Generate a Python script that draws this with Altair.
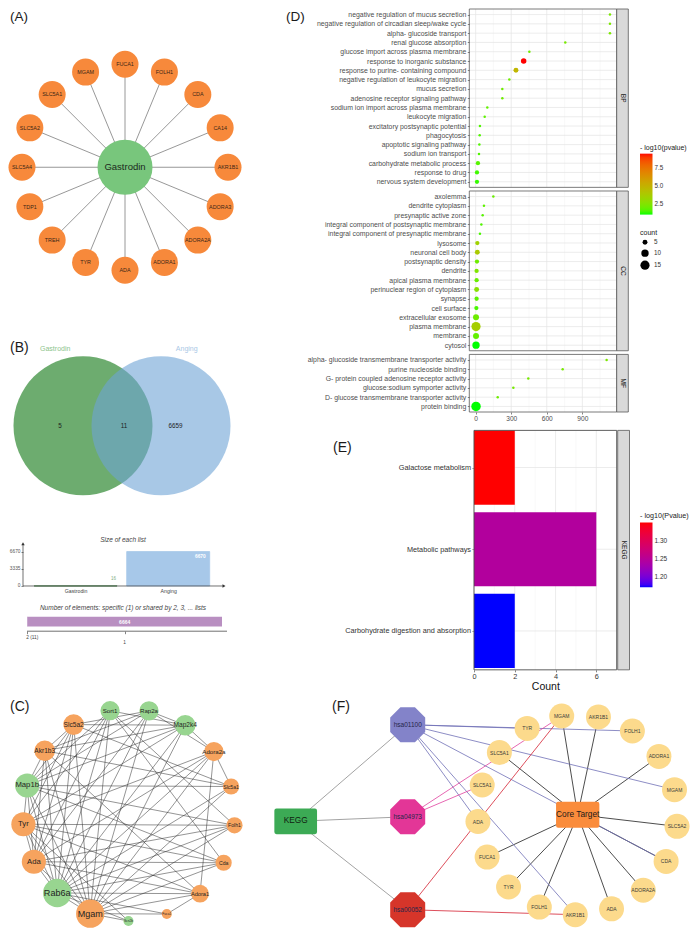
import math
import json
import pandas as pd
import altair as alt

FONT = "Liberation Sans"
W, H = 684, 922
SY = H / 938.0


def X(r):
    return r - 8.0


def Y(r):
    return (r - 2.0) * SY


# ============================ DATA ============================
# (A) compound - target network
a_hub = "Gastrodin"
a_targets = ["FUCA1", "FOLH1", "CDA", "CA14", "AKR1B1", "ADORA3", "ADORA2A", "ADORA1",
             "ADA", "TYR", "TREH", "TDP1", "SLC5A4", "SLC5A2", "SLC5A1", "MGAM"]

# (B) Venn diagram and list sizes
venn_sets = ["Gastrodin", "Anging"]
venn_region_counts = [5, 11, 6659]          # Gastrodin only, shared, Anging only
list_names = ["Gastrodin", "Anging"]
list_sizes = [16, 6670]
shared_names = ["2 (11)", "1"]
shared_counts = [11, 6664]

# (C) PPI network
c_nodes = ["Sort1", "Rap2a", "Map2k4", "Adora2a", "Slc5a1", "Folh1", "Cda", "Adora1",
           "Fuca1", "Scn2b", "Mgam", "Rab6a", "Ada", "Tyr", "Map1b", "Akr1b3", "Slc5a2"]
c_group = ["aging", "aging", "aging", "target", "target", "target", "target", "target",
           "target", "aging", "target", "aging", "target", "target", "aging", "target", "target"]
c_edges = {
    "Mgam": ["Sort1", "Rap2a", "Map2k4", "Adora2a", "Slc5a1", "Folh1", "Cda", "Adora1", "Fuca1",
             "Scn2b", "Rab6a", "Ada", "Tyr", "Map1b", "Akr1b3", "Slc5a2"],
    "Rab6a": ["Sort1", "Rap2a", "Map2k4", "Adora2a", "Slc5a1", "Folh1", "Cda", "Adora1", "Scn2b",
              "Ada", "Tyr", "Map1b", "Akr1b3", "Slc5a2", "Fuca1"],
    "Ada": ["Tyr", "Map1b", "Cda", "Adora1", "Adora2a", "Folh1", "Slc5a2", "Rap2a", "Sort1", "Akr1b3"],
    "Tyr": ["Map1b", "Folh1", "Slc5a2", "Sort1", "Cda", "Adora1", "Adora2a", "Map2k4", "Scn2b"],
    "Map1b": ["Sort1", "Rap2a", "Map2k4", "Slc5a1", "Cda", "Folh1", "Akr1b3", "Slc5a2"],
    "Sort1": ["Folh1", "Cda", "Map2k4"],
    "Rap2a": ["Map2k4", "Akr1b3", "Slc5a2", "Adora2a"],
    "Map2k4": ["Akr1b3", "Slc5a2", "Adora2a"],
    "Slc5a2": ["Slc5a1", "Akr1b3"],
    "Akr1b3": ["Slc5a1", "Adora1"],
    "Adora2a": ["Adora1", "Slc5a1"],
    "Adora1": ["Fuca1"],
}

# (D) GO enrichment
bp_terms = ["negative regulation of mucus secretion",
            "negative regulation of circadian sleep/wake cycle",
            "alpha- glucoside transport",
            "renal glucose absorption",
            "glucose import across plasma membrane",
            "response to inorganic substance",
            "response to purine- containing compound",
            "negative regulation of leukocyte migration",
            "mucus secretion",
            "adenosine receptor signaling pathway",
            "sodium ion import across plasma membrane",
            "leukocyte migration",
            "excitatory postsynaptic potential",
            "phagocytosis",
            "apoptotic signaling pathway",
            "sodium ion transport",
            "carbohydrate metabolic process",
            "response to drug",
            "nervous system development"]
bp_value = [1133, 1133, 1133, 756, 453, 405, 340, 284, 225, 225, 98, 76, 36, 34, 31, 28, 19, 11, 11]
bp_count = [2, 2, 2, 2, 2, 6, 5, 2, 2, 2, 2, 2, 2, 2, 2, 2, 4, 4, 4]
bp_logp = [2.3, 2.3, 2.3, 2.2, 2.1, 9.58, 4.8, 2.0, 2.0, 2.0, 1.8, 1.7, 1.5, 1.5, 1.5, 1.5, 1.6, 1.3, 1.2]

cc_terms = ["axolemma", "dendrite cytoplasm", "presynaptic active zone",
            "integral component of postsynaptic membrane",
            "integral component of presynaptic membrane", "lysosome", "neuronal cell body",
            "postsynaptic density", "dendrite", "apical plasma membrane",
            "perinuclear region of cytoplasm", "synapse", "cell surface",
            "extracellular exosome", "plasma membrane", "membrane", "cytosol"]
cc_value = [149, 70, 59, 48, 36, 14, 14, 11, 8, 8, 8, 8, 6, 3, 3, 3, 3]
cc_count = [2, 2, 2, 2, 2, 4, 5, 4, 4, 4, 5, 4, 4, 7, 15, 7, 10]
cc_logp = [1.9, 1.7, 1.6, 1.5, 1.4, 3.4, 3.8, 2.0, 2.4, 1.9, 2.6, 1.7, 1.4, 2.0, 3.6, 1.8, 0.97]

mf_terms = ["alpha- glucoside transmembrane transporter activity",
            "purine nucleoside binding",
            "G- protein coupled adenosine receptor activity",
            "glucose:sodium symporter activity",
            "D- glucose transmembrane transporter activity",
            "protein binding"]
mf_value = [1105, 734, 444, 318, 186, 3]
mf_count = [2, 2, 2, 2, 2, 16]
mf_logp = [2.3, 2.2, 2.2, 2.2, 2.0, 0.97]

# (E) KEGG enrichment
kegg_terms = ["Galactose metabolism", "Metabolic pathways", "Carbohydrate digestion and absorption"]
kegg_count = [2, 6, 2]
kegg_logp = [1.349, 1.245, 1.173]

# (F) pathway - target network
f_ring = ["MGAM", "AKR1B1", "FOLH1", "ADORA1", "MGAM", "SLC5A2", "CDA", "ADORA2A", "ADA",
          "AKR1B1", "FOLH1", "TYR", "FUCA1", "ADA", "SLC5A1", "SLC5A1", "TYR"]
f_pathways = ["hsa01100", "hsa04973", "hsa00052"]
f_pathway_targets = {"hsa01100": [16, 2, 4, 6, 13, 9], "hsa04973": [0, 14], "hsa00052": [0, 9]}
f_core_targets = [0, 1, 3, 5, 6, 7, 8, 10, 11, 12, 15]

# ============================ HELPERS ============================
one = pd.DataFrame({"k": [0]})


def lin_x(a, b, p0, p1):
    k = (p1 - p0) / (b - a)
    return [a - p0 / k, b + (W - p1) / k]


def lin_y(a, b, p_top, p_bot):
    k = (p_bot - p_top) / (b - a)
    return [a - (H - p_bot) / k, b + p_top / k]


def net_domains(cx, cy, k):
    return [-cx / k, (W - cx) / k], [-(H - cy) / k, cy / k]


def qs(domain):
    return alt.Scale(domain=[float(domain[0]), float(domain[1])], nice=False, zero=False)


def row_scale(first_px, step):
    # category index 0 at pixel `first_px`, one index per `step` pixels, increasing downward
    d0 = -first_px / step
    return alt.Scale(domain=[d0, d0 + H / step], reverse=True, nice=False, zero=False)


def label_expr(names):
    return json.dumps(list(names)) + "[round(datum.value)]"


def txt(t, x, y, size=14.0, align="left", color="#1A1A1A", style="normal", weight="normal",
        baseline="middle"):
    return alt.Chart(one).mark_text(text=t, fontSize=size, align=align, baseline=baseline,
                                    color=color, fontStyle=style, fontWeight=weight).encode(
        x=alt.value(x), y=alt.value(y))


# ============================ (A) ============================
A_cx, A_cy, A_k = X(125), Y(163), 103.0
a_xd, a_yd = net_domains(A_cx, A_cy, A_k)
a_x = alt.X("x:Q", scale=qs(a_xd), axis=None)
a_y = alt.Y("y:Q", scale=qs(a_yd), axis=None)
nA = len(a_targets)
a_ang = [90.0 - 360.0 * i / nA for i in range(nA)]
a_df = pd.DataFrame({"name": a_targets,
                     "x": [math.cos(math.radians(t)) for t in a_ang],
                     "y": [math.sin(math.radians(t)) for t in a_ang]})
a_df["x0"] = 0.0
a_df["y0"] = 0.0
hub_df = pd.DataFrame({"name": [a_hub], "x": [0.0], "y": [0.0]})
panelA = alt.layer(
    alt.Chart(a_df).mark_rule(color="#8C8C8C", strokeWidth=0.9).encode(x=a_x, y=a_y, x2="x0:Q", y2="y0:Q"),
    alt.Chart(a_df).mark_circle(size=27 * 27, color="#F7893B", opacity=1).encode(x=a_x, y=a_y),
    alt.Chart(a_df).mark_text(fontSize=5.4, color="#3A2616").encode(x=a_x, y=a_y, text="name:N"),
    alt.Chart(hub_df).mark_circle(size=55 * 55, color="#78C67C", opacity=1).encode(x=a_x, y=a_y),
    alt.Chart(hub_df).mark_text(fontSize=9.5, color="#1C2A1C").encode(x=a_x, y=a_y, text="name:N"),
)

# ============================ (B) Venn ============================
V_cx, V_cy, V_k = X(122), Y(426), 69.5
v_xd, v_yd = net_domains(V_cx, V_cy, V_k)
v_x = alt.X("x:Q", scale=qs(v_xd), axis=None)
v_y = alt.Y("y:Q", scale=qs(v_yd), axis=None)
half = 39.0 / V_k
venn_df = pd.DataFrame({"set": venn_sets, "x": [-half, half], "y": [0.0, 0.0],
                        "fill": ["#6DAC6F", "#6EA3D5"], "op": [1.0, 0.6],
                        "lx": [-half - 0.40, half + 0.37], "ly": [1.10, 1.10],
                        "lcol": ["#8CC48C", "#AAC8E6"]})
region_df = pd.DataFrame({"n": venn_region_counts,
                          "x": [-half - 0.33, 0.03, half + 0.21], "y": [0.0, 0.0, 0.0]})
panelV = alt.layer(
    alt.Chart(venn_df).mark_circle(size=(2 * V_k) ** 2).encode(
        x=v_x, y=v_y, color=alt.Color("fill:N", scale=None), opacity=alt.Opacity("op:Q", scale=None)),
    alt.Chart(region_df).mark_text(fontSize=6.3, color="#1E1E1E").encode(x=v_x, y=v_y, text="n:Q"),
    alt.Chart(venn_df).mark_text(fontSize=7).encode(
        x=alt.X("lx:Q", scale=qs(v_xd), axis=None), y=alt.Y("ly:Q", scale=qs(v_yd), axis=None),
        text="set:N", color=alt.Color("lcol:N", scale=None)),
)

# ============================ (B) list sizes ============================
u1_df = pd.DataFrame({"name": list_names, "idx": list(range(len(list_names))), "size": list_sizes,
                      "fill": ["#6DAC6F", "#A7C8E9"], "edge": ["#4E8A52", "#A7C8E9"]})
u1_xs = qs(lin_x(0, 1, X(71.5), X(165.5)))
u1_ys = qs(lin_y(0, 6670, Y(554), Y(589)))
u1_xax = alt.Axis(orient="bottom", offset=Y(589) - H, values=[0, 1], labelExpr=label_expr(list_names),
                  labelFontSize=5.2, labelColor="#444444", ticks=False, domain=False, grid=False,
                  title=None, labelPadding=3, labelAngle=0, labelFlush=False, labelOverlap=False)
u1_yax = alt.Axis(orient="left", offset=-X(23), values=[0, 3335, 6670], format="d", labelFontSize=4.8,
                  labelColor="#555555", tickSize=2, tickColor="#333333", tickWidth=0.6,
                  domain=False, grid=False, title=None, labelPadding=1, labelFlush=False,
                  labelOverlap=False)
u1_x = alt.X("idx:Q", scale=u1_xs, axis=u1_xax)
u1_y = alt.Y("size:Q", scale=u1_ys, axis=u1_yax)
panelU1 = alt.layer(
    alt.Chart(u1_df).mark_bar(strokeWidth=0.8, width=83, orient="vertical").encode(
        x=u1_x, y=u1_y, color=alt.Color("fill:N", scale=None), stroke=alt.Stroke("edge:N", scale=None)),
    alt.Chart(u1_df).transform_filter("datum.size > 1000").mark_text(
        align="right", baseline="middle", dx=37.5, dy=5, color="white", fontSize=4.8,
        fontWeight="bold").encode(x=u1_x, y=u1_y, text="size:Q"),
    alt.Chart(u1_df).transform_filter("datum.size <= 1000").mark_text(
        align="right", baseline="middle", dx=40.5, dy=-7, color="#7FAE82", fontSize=4.5).encode(
        x=u1_x, y=u1_y, text="size:Q"),
    alt.Chart(one).mark_rule(color="#333333", strokeWidth=0.7).encode(
        x=alt.value(X(23)), x2=alt.value(X(223)), y=alt.value(Y(589))),
    alt.Chart(one).mark_rule(color="#333333", strokeWidth=0.7).encode(
        x=alt.value(X(23)), y=alt.value(Y(547)), y2=alt.value(Y(589))),
    alt.Chart(one).mark_point(shape="triangle-right", filled=True, size=12, color="#333333",
                              opacity=1).encode(x=alt.value(X(224)), y=alt.value(Y(589))),
    alt.Chart(one).mark_point(shape="triangle-up", filled=True, size=12, color="#333333",
                              opacity=1).encode(x=alt.value(X(23)), y=alt.value(Y(546))),
    txt("Size of each list", X(123), Y(542), size=6.5, align="center", color="#444444", style="italic"),
)

# ============================ (B) shared elements ============================
u2_total = sum(shared_counts)
u2_start = [sum(shared_counts[:i]) for i in range(len(shared_counts))]
u2_df = pd.DataFrame({"name": shared_names, "cnt": shared_counts, "s": u2_start,
                      "e": [s + c for s, c in zip(u2_start, shared_counts)], "row": 0})
u2_df["mid"] = (u2_df["s"] + u2_df["e"]) / 2.0
u2_xs = qs(lin_x(0, u2_total, X(27), X(222)))
U2_H = Y(632) - Y(622)
u2_ys = row_scale(Y(627), U2_H)
u2_xax = alt.Axis(orient="bottom", offset=Y(635) - H, values=[float(v) for v in u2_df["mid"]],
                  labels=False, tickSize=2.5, tickColor="#333333", tickWidth=0.6, domain=False,
                  grid=False, title=None)
u2_y = alt.Y("row:Q", scale=u2_ys, axis=None)
panelU2 = alt.layer(
    alt.Chart(u2_df).mark_bar(color="#B98FC1", orient="horizontal", height=U2_H).encode(
        x=alt.X("s:Q", scale=u2_xs, axis=u2_xax), x2="e:Q", y=u2_y),
    alt.Chart(u2_df).transform_filter("datum.cnt > 1000").mark_text(
        color="white", fontSize=5, fontWeight="bold").encode(
        x=alt.X("mid:Q", scale=u2_xs, axis=u2_xax), y=u2_y, text="cnt:Q"),
    alt.Chart(one).mark_rule(color="#333333", strokeWidth=0.7).encode(
        x=alt.value(X(27)), x2=alt.value(X(227)), y=alt.value(Y(635))),
    alt.Chart(u2_df).transform_filter("datum.cnt <= 1000").mark_text(
        align="left", baseline="middle", fontSize=4.8, color="#444444", dx=-1).encode(
        x=alt.X("mid:Q", scale=u2_xs, axis=u2_xax), y=alt.value(Y(642)), text="name:N"),
    alt.Chart(u2_df).transform_filter("datum.cnt > 1000").mark_text(
        align="center", baseline="middle", fontSize=4.8, color="#444444").encode(
        x=alt.X("mid:Q", scale=u2_xs, axis=u2_xax), y=alt.value(Y(647)), text="name:N"),
    txt("Number of elements: specific (1) or shared by 2, 3, ... lists", X(123), Y(611),
        size=6.5, align="center", color="#444444", style="italic"),
)

# ============================ (C) ============================
C_cx, C_cy, C_k = X(129), Y(822), 106.0
c_xd, c_yd = net_domains(C_cx, C_cy, C_k)
c_x = alt.X("x:Q", scale=qs(c_xd), axis=None)
c_y = alt.Y("y:Q", scale=qs(c_yd), axis=None)
nC = len(c_nodes)
c_ang = [100.3 - 360.0 * i / nC for i in range(nC)]
c_pos = {nm: (math.cos(math.radians(a)), math.sin(math.radians(a))) for nm, a in zip(c_nodes, c_ang)}
c_pairs = [(s, t) for s, ts in c_edges.items() for t in ts]
c_deg = {nm: 0 for nm in c_nodes}
for s, t in c_pairs:
    c_deg[s] += 1
    c_deg[t] += 1
c_ndf = pd.DataFrame({"name": c_nodes, "group": c_group,
                      "x": [c_pos[n][0] for n in c_nodes], "y": [c_pos[n][1] for n in c_nodes],
                      "deg": [c_deg[n] for n in c_nodes]})
c_ndf["area"] = 100.0 + 700.0 * (c_ndf["deg"] - 3) / 13.0
c_ndf["fs"] = 0.32 * c_ndf["area"] ** 0.5
c_ndf["fill"] = c_ndf["group"].map({"aging": "#98D590", "target": "#F6A35E"})
c_edf = pd.DataFrame({"x": [c_pos[s][0] for s, t in c_pairs], "y": [c_pos[s][1] for s, t in c_pairs],
                      "x2": [c_pos[t][0] for s, t in c_pairs], "y2": [c_pos[t][1] for s, t in c_pairs]})
panelC = alt.layer(
    alt.Chart(c_edf).mark_rule(color="#262626", strokeWidth=0.55, opacity=0.9).encode(
        x=c_x, y=c_y, x2="x2:Q", y2="y2:Q"),
    alt.Chart(c_ndf).mark_circle(opacity=1).encode(
        x=c_x, y=c_y, size=alt.Size("area:Q", scale=None), color=alt.Color("fill:N", scale=None)),
    alt.Chart(c_ndf).mark_text(color="#1F1F1F").encode(
        x=c_x, y=c_y, text="name:N", size=alt.Size("fs:Q", scale=None)),
)

# ============================ (D) ============================
D_L, D_R, D_SR = X(469.3), X(616.7), X(628.3)
D_k = (X(582.33) - X(475.67)) / 900.0
D_XD = lin_x(0, 900, X(475.67), X(582.33))
D_LO = -(X(475.67) - D_L) / D_k
D_HI = 900 + (D_R - X(582.33)) / D_k
D_STEP = 9.45 * SY
D_GAP = (Y(412) - Y(2) - (len(bp_terms) + len(cc_terms) + len(mf_terms) + 0.6) * D_STEP) / 2.0
D_COL = alt.Scale(domain=[0.97, 9.58], range=["#00FF00", "#FF0000"], interpolate="lab")
D_SIZE = alt.Scale(domain=[2, 16], range=[6.25, 90])


def go_panel(facet, terms, vals, counts, lps, top, show_x, show_legend):
    n = len(terms)
    bot = top + (n + 0.2) * D_STEP
    xs = qs(D_XD)
    ys = row_scale(top + 0.6 * D_STEP, D_STEP)
    yax = alt.Axis(orient="left", offset=-D_L, title=None, values=list(range(n)),
                   labelExpr=label_expr(terms), labelFontSize=6.9, labelColor="#4D4D4D",
                   tickSize=2, tickColor="#333333", tickWidth=0.6, domain=False, grid=False,
                   labelPadding=1.5, labelLimit=400, labelFlush=False, labelOverlap=False)
    if show_x:
        xax = alt.Axis(orient="bottom", offset=bot - H, values=[0, 300, 600, 900], title=None,
                       labelFontSize=6.6, labelColor="#4D4D4D", tickSize=2, tickColor="#333333",
                       tickWidth=0.6, domain=False, grid=False, labelPadding=1, labelFlush=False,
                       labelOverlap=False)
    else:
        xax = None
    yenc = alt.Y("idx:Q", scale=ys, axis=yax)

    def xenc(f):
        return alt.X(f, scale=xs, axis=xax)

    df = pd.DataFrame({"term": terms, "idx": list(range(n)), "val": vals, "count": counts, "lp": lps})
    if show_legend:
        cleg = alt.Legend(orient="none", legendX=X(640), legendY=Y(139), title="- log10(pvalue)",
                          titleFontSize=7, titleFontWeight="normal", titleColor="#222222",
                          titlePadding=3, gradientLength=Y(212) - Y(150), gradientThickness=12.5,
                          labelFontSize=6.3, labelColor="#333333", values=[2.5, 5.0, 7.5],
                          format=".1f", direction="vertical", gradientStrokeWidth=0,
                          labelOverlap=False)
        sleg = alt.Legend(orient="none", legendX=X(640), legendY=Y(226), title="count",
                          titleFontSize=7, titleFontWeight="normal", titleColor="#222222",
                          titlePadding=3, values=[5, 10, 15], symbolFillColor="black",
                          symbolStrokeColor="black", symbolStrokeWidth=0, symbolOpacity=1,
                          labelFontSize=6.3, labelColor="#333333", rowPadding=3)
    else:
        cleg = None
        sleg = None
    hg = pd.DataFrame({"idx": list(range(n))})
    hg["g0"] = D_LO
    hg["g1"] = D_HI
    layers = [
        alt.Chart(pd.DataFrame({"g": [150, 450, 750, 1050]})).mark_rule(
            color="#F0F0F0", strokeWidth=0.4).encode(x=xenc("g:Q"), y=alt.value(top), y2=alt.value(bot)),
        alt.Chart(pd.DataFrame({"g": [0, 300, 600, 900]})).mark_rule(
            color="#E4E4E4", strokeWidth=0.7).encode(x=xenc("g:Q"), y=alt.value(top), y2=alt.value(bot)),
        alt.Chart(hg).mark_rule(color="#E4E4E4", strokeWidth=0.7).encode(
            x=xenc("g0:Q"), x2="g1:Q", y=yenc),
        alt.Chart(df).mark_circle(opacity=1).encode(
            x=xenc("val:Q"), y=yenc,
            size=alt.Size("count:Q", scale=D_SIZE, legend=sleg),
            color=alt.Color("lp:Q", scale=D_COL, legend=cleg)),
        alt.Chart(one).mark_rect(fillOpacity=0, stroke="#595959", strokeWidth=0.8).encode(
            x=alt.value(D_L), x2=alt.value(D_R), y=alt.value(top), y2=alt.value(bot)),
        alt.Chart(one).mark_rect(fill="#D9D9D9", stroke="#595959", strokeWidth=0.8).encode(
            x=alt.value(D_R), x2=alt.value(D_SR), y=alt.value(top), y2=alt.value(bot)),
        alt.Chart(pd.DataFrame({"facet": [facet]})).mark_text(
            angle=90, fontSize=6.5, color="#1A1A1A", baseline="middle").encode(
            text="facet:N", x=alt.value((D_R + D_SR) / 2.0), y=alt.value((top + bot) / 2.0)),
    ]
    return alt.layer(*layers), bot


bp_layer, bp_bot = go_panel("BP", bp_terms, bp_value, bp_count, bp_logp, Y(2), False, True)
cc_layer, cc_bot = go_panel("CC", cc_terms, cc_value, cc_count, cc_logp, bp_bot + D_GAP, False, False)
mf_layer, mf_bot = go_panel("MF", mf_terms, mf_value, mf_count, mf_logp, cc_bot + D_GAP, True, False)

# ============================ (E) ============================
E_L, E_R, E_SR = X(474), X(616.7), X(629.5)
E_T = Y(430.7)
E_STEP = 84.05 * SY
E_BW = 75.5 * SY
E_B = E_T + E_STEP * (len(kegg_terms) - 1) + E_BW
e_xs = qs(lin_x(0, 7, E_L, E_R))
e_ys = row_scale(E_T + E_BW / 2.0, E_STEP)
e_yax = alt.Axis(orient="left", offset=-E_L, title=None, values=list(range(len(kegg_terms))),
                 labelExpr=label_expr(kegg_terms), labelFontSize=7.3, labelColor="#333333",
                 tickSize=2, tickColor="#333333", tickWidth=0.6, domain=False, grid=False,
                 labelPadding=1.5, labelLimit=400, labelFlush=False, labelOverlap=False)
e_xax = alt.Axis(orient="bottom", offset=E_B - H, values=[0, 2, 4, 6], title="Count",
                 titleX=(E_L + E_R) / 2.0, titleFontSize=10.5, titleFontWeight="normal",
                 titleColor="#111111", titlePadding=1, labelFontSize=7.3, labelColor="#333333",
                 tickSize=2, tickColor="#333333", tickWidth=0.6, domain=False, grid=False,
                 labelPadding=1, labelFlush=False, labelOverlap=False)
e_y = alt.Y("idx:Q", scale=e_ys, axis=e_yax)


def e_x(f):
    return alt.X(f, scale=e_xs, axis=e_xax)


e_df = pd.DataFrame({"term": kegg_terms, "idx": list(range(len(kegg_terms))),
                     "count": kegg_count, "lp": kegg_logp})
e_hg = pd.DataFrame({"idx": list(range(len(kegg_terms))), "g0": 0.0, "g1": 7.0})
e_leg = alt.Legend(orient="none", legendX=X(640), legendY=Y(514), title="- log10(Pvalue)",
                   titleFontSize=7.2, titleFontWeight="normal", titleColor="#222222", titlePadding=3,
                   gradientLength=(592 - 526) * SY, gradientThickness=12.5, labelFontSize=6.5,
                   labelColor="#333333", values=[1.20, 1.25, 1.30], format=".2f",
                   direction="vertical", gradientStrokeWidth=0, labelOverlap=False)
panelE = alt.layer(
    alt.Chart(pd.DataFrame({"g": [1, 3, 5]})).mark_rule(color="#F0F0F0", strokeWidth=0.4).encode(
        x=e_x("g:Q"), y=alt.value(E_T), y2=alt.value(E_B)),
    alt.Chart(pd.DataFrame({"g": [0, 2, 4, 6]})).mark_rule(color="#E4E4E4", strokeWidth=0.7).encode(
        x=e_x("g:Q"), y=alt.value(E_T), y2=alt.value(E_B)),
    alt.Chart(e_hg).mark_rule(color="#E4E4E4", strokeWidth=0.7).encode(
        x=e_x("g0:Q"), x2="g1:Q", y=e_y),
    alt.Chart(e_df).mark_bar(orient="horizontal", height=E_BW).encode(
        x=e_x("count:Q"), y=e_y,
        color=alt.Color("lp:Q", scale=alt.Scale(domain=[1.173, 1.349], range=["#0000FF", "#FF0000"],
                                                interpolate="lab"), legend=e_leg)),
    alt.Chart(one).mark_rect(fillOpacity=0, stroke="#4D4D4D", strokeWidth=0.9).encode(
        x=alt.value(E_L), x2=alt.value(E_R), y=alt.value(E_T), y2=alt.value(E_B)),
    alt.Chart(one).mark_rect(fill="#D9D9D9", stroke="#595959", strokeWidth=0.8).encode(
        x=alt.value(E_R + 1), x2=alt.value(E_SR), y=alt.value(E_T), y2=alt.value(E_B)),
    alt.Chart(pd.DataFrame({"facet": ["KEGG"]})).mark_text(
        angle=90, fontSize=6.5, color="#1A1A1A", baseline="middle").encode(
        text="facet:N", x=alt.value((E_R + 1 + E_SR) / 2.0), y=alt.value((E_T + E_B) / 2.0)),
)

# ============================ (F) ============================
F_cx, F_cy, F_k = X(577.7), Y(821.7), 1.0
f_xd, f_yd = net_domains(F_cx, F_cy, F_k)
f_x = alt.X("x:Q", scale=qs(f_xd), axis=None)
f_y = alt.Y("y:Q", scale=qs(f_yd), axis=None)
nF = len(f_ring)
RING_R = 100.0
f_ang = [99.2 - 360.0 * i / nF for i in range(nF)]
ring_xy = [(RING_R * math.cos(math.radians(a)), RING_R * math.sin(math.radians(a))) for a in f_ang]
ring_df = pd.DataFrame({"label": f_ring, "x": [p[0] for p in ring_xy], "y": [p[1] for p in ring_xy]})
path_fill = {"hsa01100": "#8383C9", "hsa04973": "#E33697", "hsa00052": "#D6352A"}
path_edge = {"hsa01100": "#7070B6", "hsa04973": "#E0409E", "hsa00052": "#D42232"}
path_xy = {"hsa01100": (-170.0, 90.0), "hsa04973": (-170.0, -2.0), "hsa00052": (-170.0, -95.0)}
kegg_xy = (-282.0, -6.6)
core_xy = (0.0, 0.0)
path_df = pd.DataFrame({"label": f_pathways, "x": [path_xy[p][0] for p in f_pathways],
                        "y": [path_xy[p][1] for p in f_pathways],
                        "fill": [path_fill[p] for p in f_pathways]})
e_rows = []
for p in f_pathways:
    e_rows.append((kegg_xy, path_xy[p], "#8C8C8C"))
for i in f_core_targets:
    e_rows.append((core_xy, ring_xy[i], "#1F1F1F"))
for p in f_pathways:
    for i in f_pathway_targets[p]:
        e_rows.append((path_xy[p], ring_xy[i], path_edge[p]))
f_edf = pd.DataFrame({"x": [r[0][0] for r in e_rows], "y": [r[0][1] for r in e_rows],
                      "x2": [r[1][0] for r in e_rows], "y2": [r[1][1] for r in e_rows],
                      "col": [r[2] for r in e_rows]})
OCT = "M-0.414,-1L0.414,-1L1,-0.414L1,0.414L0.414,1L-0.414,1L-1,0.414L-1,-0.414Z"
RRECT = ("M-0.9,-0.6L0.9,-0.6Q1,-0.6 1,-0.5L1,0.5Q1,0.6 0.9,0.6L-0.9,0.6Q-1,0.6 -1,0.5"
         "L-1,-0.5Q-1,-0.6 -0.9,-0.6Z")
kegg_df = pd.DataFrame({"label": ["KEGG"], "x": [kegg_xy[0]], "y": [kegg_xy[1]]})
core_df = pd.DataFrame({"label": ["Core Target"], "x": [core_xy[0]], "y": [core_xy[1]]})
panelF = alt.layer(
    alt.Chart(f_edf).mark_rule(strokeWidth=0.8).encode(
        x=f_x, y=f_y, x2="x2:Q", y2="y2:Q", color=alt.Color("col:N", scale=None)),
    alt.Chart(ring_df).mark_circle(size=625, color="#FCDA8C", opacity=1).encode(x=f_x, y=f_y),
    alt.Chart(path_df).mark_point(shape=OCT, filled=True, size=1225, opacity=1, strokeWidth=0).encode(
        x=f_x, y=f_y, color=alt.Color("fill:N", scale=None)),
    alt.Chart(kegg_df).mark_point(shape=RRECT, filled=True, size=1823, opacity=1, strokeWidth=0,
                                  color="#3CAA55").encode(x=f_x, y=f_y),
    alt.Chart(core_df).mark_point(shape=RRECT, filled=True, size=1875, opacity=1, strokeWidth=0,
                                  color="#FA8C3C").encode(x=f_x, y=f_y),
    alt.Chart(ring_df).mark_text(fontSize=5, color="#3A3A3A").encode(x=f_x, y=f_y, text="label:N"),
    alt.Chart(path_df).mark_text(fontSize=6.5, color="#26264A").encode(x=f_x, y=f_y, text="label:N"),
    alt.Chart(kegg_df).mark_text(fontSize=8.3, color="#102010").encode(x=f_x, y=f_y, text="label:N"),
    alt.Chart(core_df).mark_text(fontSize=8.3, color="#1A1A1A").encode(x=f_x, y=f_y, text="label:N"),
)

# ============================ panel letters ============================
letters = [
    txt("(A)", X(10), 1.0, size=13.5, baseline="top"),
    txt("(D)", X(286), 1.0, size=13.5, baseline="top"),
    txt("(B)", X(10), Y(347)),
    txt("(E)", X(333), Y(449)),
    txt("(C)", X(10), Y(712)),
    txt("(F)", X(332), Y(712.5)),
]

chart = alt.layer(
    panelA, panelV, panelU1, panelU2, panelC, bp_layer, cc_layer, mf_layer, panelE, panelF, *letters
).resolve_scale(
    x="independent", y="independent", color="independent", size="independent", opacity="independent"
).properties(
    width=W, height=H, padding=0
).configure(
    font=FONT
).configure_view(
    strokeWidth=0
)

chart.save("out.html", embed_options={"renderer": "svg", "actions": False})
